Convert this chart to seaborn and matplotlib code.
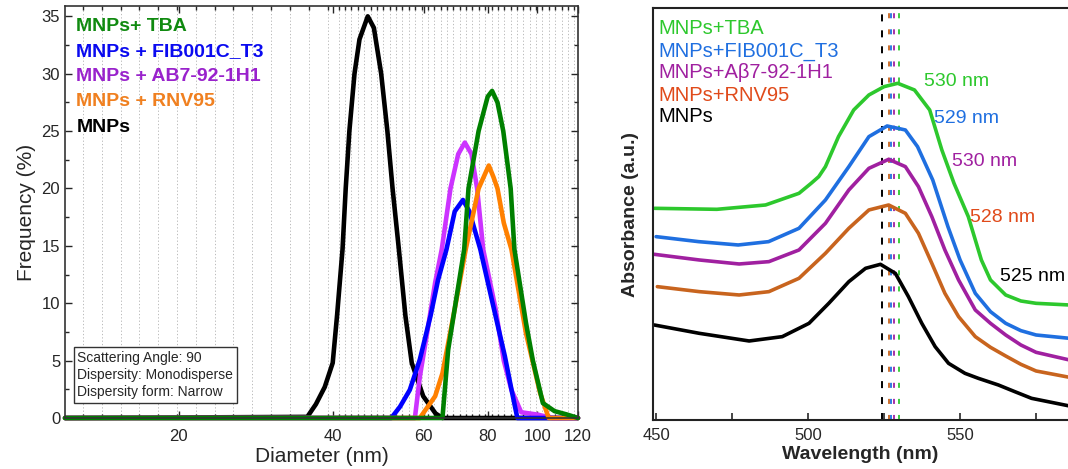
import numpy as np
import pandas as pd
import matplotlib
matplotlib.use('Agg')
import matplotlib.pyplot as plt
import matplotlib.ticker as mticker
import seaborn as sns

# ---- DLS size distributions (left panel), diameter in nm, frequency in % ----
d_mnps = [12, 35.6, 37.0, 38.5, 39.9, 40.7, 41.7, 42.3, 43.0, 44.0, 45.0, 46.7,
          48.0, 49.6, 51.0, 52.2, 53.7, 55.3, 56.9, 59.9, 63.3, 65.3, 120]
f_mnps = [0, 0.1, 1.2, 2.7, 4.8, 9, 14.7, 20, 25, 30, 33, 35,
          34, 30, 25, 20, 14.7, 8.9, 4.8, 1.9, 0.4, 0, 0]

d_ab7 = [12, 57.7, 59.0, 61.0, 63.2, 65.1, 67.7, 70.1, 72.2, 74.4, 76.3, 78.4,
         82.9, 86.0, 89.0, 93.0, 100, 107, 120]
f_ab7 = [0, 0, 3.6, 7.5, 11.8, 14.7, 20, 23, 24, 23, 20, 14.7,
         9.5, 5, 2.45, 0.5, 0.3, 0, 0]

d_fib = [12, 51.9, 54.0, 56.4, 59.0, 61.9, 64.0, 66.5, 69.0, 71.6, 73.7, 77.4,
         81.8, 86.4, 89.0, 91.4, 120]
f_fib = [0, 0, 1, 2.45, 5.1, 8.9, 12, 14.7, 18, 19, 18, 14.7,
         10, 5.4, 2.5, 0, 0]

d_rnv = [12, 59.0, 63.2, 65.3, 68.6, 72.5, 76.8, 80.4, 82.1, 83.6, 86.0, 89.0,
         95.0, 101.2, 105.2, 120]
f_rnv = [0, 0, 1.9, 3.9, 8.9, 14.7, 20, 22, 21, 20, 17, 14.7,
         7.4, 2.2, 0, 0]

d_tba = [12, 65.3, 67.0, 70.3, 72.0, 73.4, 76.8, 80.0, 81.6, 83.6, 85.8, 88.7,
         90.2, 95.0, 98.0, 102.5, 108, 114.3, 120]
f_tba = [0, 0, 5.95, 11.8, 14.7, 20, 25, 28, 28.5, 27.5, 25, 20,
         14.7, 8.3, 5, 1.3, 0.6, 0.3, 0]

dls_labels = ['MNPs+ TBA', 'MNPs + FIB001C_T3', 'MNPs + AB7-92-1H1', 'MNPs + RNV95', 'MNPs']
dls_colors = ['#008000', '#0000FF', '#CC33FF', '#FF8000', '#000000']
dls_text_colors = ['#108A10', '#0A0AF0', '#9922CC', '#F08020', '#000000']
size_ticks = [20, 40, 60, 80, 100, 120]
info_text = 'Scattering Angle: 90\nDispersity: Monodisperse\nDispersity form: Narrow'

# ---- UV-Vis spectra (right panel), arbitrary absorbance units ----
wl_tba = [449.5, 470, 486, 497, 501, 503.5, 505.7, 510, 515, 520, 525, 529.5, 535, 540,
          544, 548, 552.7, 557, 560, 565, 570, 575, 586]
abs_tba = [.635, .632, .645, .68, .71, .73, .76, .85, .93, .975, 1.0, 1.01, .99, .93,
           .81, .71, .61, .48, .42, .375, .357, .35, .345]

wl_fib = [450, 464, 477, 487, 497, 505.7, 513.4, 520, 526, 532, 536, 541, 546, 550,
          555, 560, 565, 570, 575, 586]
abs_fib = [.55, .535, .525, .535, .575, .66, .76, .85, .882, .87, .82, .72, .58, .48,
           .38, .325, .29, .268, .255, .245]

wl_ab7 = [449.4, 464.2, 477.3, 487.1, 497, 505.7, 513.4, 520, 526.5, 532, 536.3, 540.7,
          545, 549.5, 555, 560, 565, 570, 575, 586]
abs_ab7 = [.497, .48, .468, .475, .51, .59, .69, .755, .782, .76, .70, .61,
           .51, .42, .33, .29, .255, .225, .203, .18]

wl_rnv = [450.4, 464.2, 477.3, 487.1, 497, 505.7, 513.4, 520, 526.5, 532, 536.3, 540.7,
          545, 549.5, 555, 560, 565, 570, 575, 586]
abs_rnv = [.40, .385, .375, .385, .425, .50, .575, .63, .645, .62, .56, .47,
           .38, .31, .25, .218, .192, .167, .147, .128]

wl_mnps = [449.4, 464.2, 480.6, 491.5, 500.3, 506.8, 513.4, 518.9, 523.8, 528.7, 533,
           537.4, 541.8, 546.2, 551.6, 556, 562.6, 568, 573.5, 586]
abs_mnps = [.285, .26, .237, .25, .29, .35, .415, .455, .467, .44, .37,
            .29, .22, .17, .14, .125, .105, .085, .065, .042]

uv_labels = ['MNPs+TBA', 'MNPs+FIB001C_T3', 'MNPs+A\u03b27-92-1H1', 'MNPs+RNV95', 'MNPs']
uv_colors = ['#2DC82D', '#1F6FE0', '#A020A0', '#C8641E', '#000000']
uv_text_colors = ['#2DC82D', '#1F6FE0', '#A020A0', '#E04A1A', '#000000']
peak_labels = ['530 nm', '529 nm', '530 nm', '528 nm', '525 nm']
peak_label_x = [538, 541.3, 547.2, 553.4, 563.2]
peak_label_y = [1.014, 0.903, 0.774, 0.606, 0.429]
peak_lines = [529.8, 527.4, 528.1, 526.7, 524.3]

sns.set_theme(style='ticks')
plt.rcParams['font.family'] = ['Liberation Sans', 'DejaVu Sans']

fig = plt.figure(figsize=(10.68, 4.69), dpi=100)
ax1 = fig.add_axes([0.0609, 0.1087, 0.4803, 0.8785])
ax2 = fig.add_axes([0.6115, 0.1045, 0.3885, 0.8778])

# ---------------- left panel ----------------
grid_x = np.concatenate([np.geomspace(13, 39, 14), np.geomspace(41, 118, 38)])
for gx in grid_x:
    ax1.axvline(gx, color='#B0B0B0', lw=0.6, ls=(0, (1.5, 2.5)), zorder=0)

dls = [(d_mnps, f_mnps, 4), (d_ab7, f_ab7, 2), (d_fib, f_fib, 1), (d_rnv, f_rnv, 3), (d_tba, f_tba, 0)]
for d, f, i in dls:
    df = pd.DataFrame({'d': d, 'f': f})
    sns.lineplot(data=df, x='d', y='f', ax=ax1, color=dls_colors[i], lw=3.3,
                 sort=False, solid_joinstyle='round', solid_capstyle='round', clip_on=False)

ax1.set_xscale('log')
ax1.set_xlim(12, 120)
ax1.set_ylim(0, 35.9)
ax1.xaxis.set_major_locator(mticker.FixedLocator(size_ticks))
ax1.xaxis.set_major_formatter(mticker.FixedFormatter([str(t) for t in size_ticks]))
ax1.xaxis.set_minor_locator(mticker.FixedLocator(list(grid_x)))
ax1.xaxis.set_minor_formatter(mticker.NullFormatter())
ax1.yaxis.set_major_locator(mticker.MultipleLocator(5))
ax1.yaxis.set_minor_locator(mticker.MultipleLocator(2.5))
ax1.tick_params(which='both', direction='in', top=True, right=True, labelsize=12, width=1)
ax1.tick_params(which='major', length=5)
ax1.tick_params(which='minor', length=3)
ax1.tick_params(axis='x', pad=8)
ax1.set_xlabel('Diameter (nm)', fontsize=15, labelpad=2)
ax1.set_ylabel('Frequency (%)', fontsize=15, labelpad=4)
for sp in ax1.spines.values():
    sp.set_color('#333333')
    sp.set_linewidth(1.2)

for k, lab in enumerate(dls_labels):
    ax1.text(0.022, 0.951 - k * 0.0612, lab, transform=ax1.transAxes, color=dls_text_colors[k],
             fontsize=14, fontweight='bold', va='center', ha='left')

ax1.text(0.024, 0.045, info_text, transform=ax1.transAxes, fontsize=10, va='bottom', ha='left',
         linespacing=1.3, bbox=dict(boxstyle='square,pad=0.25', fc='white', ec='#333333', lw=1))

# ---------------- right panel ----------------
uv = [(wl_tba, abs_tba), (wl_fib, abs_fib), (wl_ab7, abs_ab7), (wl_rnv, abs_rnv), (wl_mnps, abs_mnps)]
for i, (w, a) in enumerate(uv):
    df = pd.DataFrame({'wl': w, 'a': a})
    sns.lineplot(data=df, x='wl', y='a', ax=ax2, color=uv_colors[i], lw=2.6,
                 solid_joinstyle='round', solid_capstyle='round')

for i, xv in enumerate(peak_lines):
    if i == 4:
        ax2.axvline(xv, color=uv_colors[i], lw=1.4, ls=(0, (3.6, 4.6)), zorder=1)
    else:
        ax2.axvline(xv, color=uv_colors[i], lw=1.3, ls=(0, (2.8, 6.1)), zorder=1)

for i, lab in enumerate(uv_labels):
    ax2.text(450.8, [1.173, 1.104, 1.041, 0.972, 0.909][i], lab, color=uv_text_colors[i],
             fontsize=14.5, va='center', ha='left')

for i, lab in enumerate(peak_labels):
    ax2.text(peak_label_x[i], peak_label_y[i], lab, color=uv_text_colors[i],
             fontsize=14, va='center', ha='left', clip_on=False)

ax2.set_xlim(449, 585.5)
ax2.set_ylim(0, 1.235)
ax2.xaxis.set_major_locator(mticker.FixedLocator([450, 500, 550]))
ax2.xaxis.set_minor_locator(mticker.FixedLocator([475, 525, 575]))
ax2.set_yticks([])
ax2.tick_params(axis='x', which='both', direction='in', labelsize=12, width=1.2, pad=6)
ax2.tick_params(axis='x', which='major', length=5)
ax2.tick_params(axis='x', which='minor', length=5)
ax2.spines['right'].set_visible(False)
for sp in ['left', 'top', 'bottom']:
    ax2.spines[sp].set_color('#222222')
    ax2.spines[sp].set_linewidth(1.5)
ax2.set_xlabel('Wavelength (nm)', fontsize=14, fontweight='bold', labelpad=2)
ax2.set_ylabel('Absorbance (a.u.)', fontsize=14, fontweight='bold', labelpad=10)

fig.savefig('out.png', dpi=100, facecolor='white')
